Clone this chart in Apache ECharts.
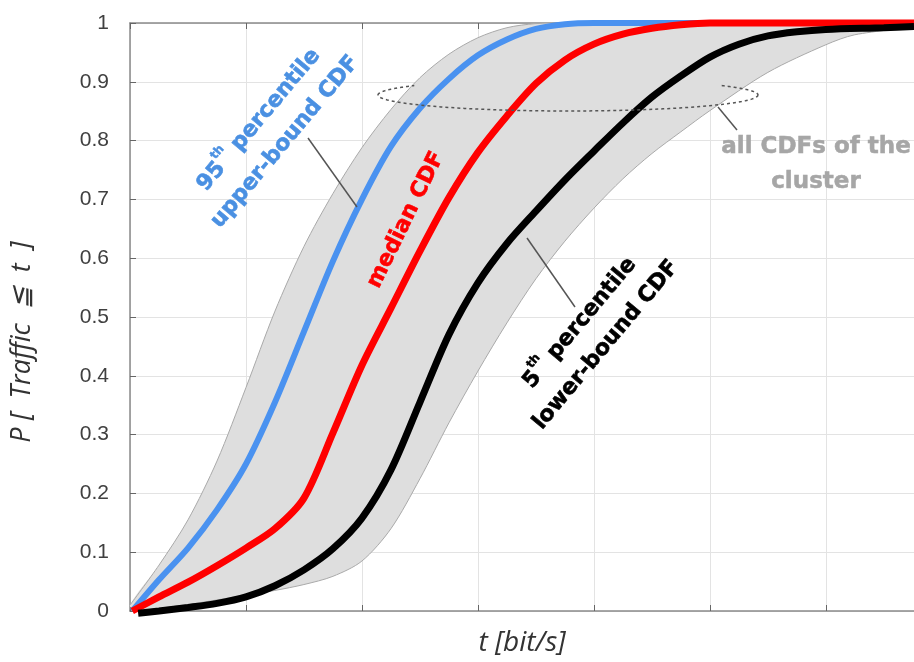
<!DOCTYPE html>
<html><head><meta charset="utf-8">
<script src="https://cdn.jsdelivr.net/npm/echarts@6/dist/echarts.min.js"></script>
<style>html,body{margin:0;padding:0;background:#fff}#c{width:914px;height:662px}</style>
</head><body><div id="c"></div>
<script>
// x in grid units (vertical gridline spacing = 1), y = probability
const upperEnvelope = [[0,0.01],[0.25,0.078],[0.5,0.155],[0.75,0.255],[1.0,0.38],[1.25,0.51],[1.5,0.62],[1.75,0.71],[2.0,0.788],[2.25,0.853],[2.5,0.907],[2.75,0.947],[3.0,0.975],[3.25,0.992],[3.5,0.999],[3.75,1.0],[6.76,1.0]];
const lowerEnvelope = [[0.07,0.0],[0.5,0.011],[1.0,0.027],[1.25,0.035],[1.5,0.045],[1.75,0.059],[2.0,0.085],[2.25,0.14],[2.5,0.225],[2.75,0.32],[3.0,0.408],[3.25,0.49],[3.5,0.565],[3.75,0.629],[4.0,0.685],[4.25,0.735],[4.5,0.778],[4.75,0.815],[5.0,0.851],[5.5,0.916],[6.0,0.963],[6.25,0.98],[6.76,0.993]];
const upper95 = [[0.02,0.0],[0.25,0.053],[0.5,0.107],[0.75,0.172],[1.0,0.25],[1.25,0.355],[1.5,0.475],[1.75,0.595],[2.0,0.70],[2.25,0.79],[2.5,0.855],[2.75,0.905],[3.0,0.945],[3.25,0.972],[3.5,0.99],[3.75,0.998],[4.0,1.0],[6.76,1.0]];
const medianCDF = [[0.02,0.0],[0.25,0.024],[0.5,0.049],[0.75,0.077],[1.0,0.107],[1.25,0.14],[1.5,0.192],[1.75,0.303],[2.0,0.418],[2.25,0.515],[2.5,0.612],[2.75,0.703],[3.0,0.78],[3.25,0.842],[3.5,0.897],[3.75,0.937],[4.0,0.964],[4.25,0.981],[4.5,0.991],[4.75,0.997],[5.0,1.0],[6.76,1.0]];
const lower5 = [[0.07,-0.004],[0.25,0.0],[0.5,0.006],[0.75,0.013],[1.0,0.024],[1.25,0.043],[1.5,0.07],[1.75,0.106],[2.0,0.158],[2.25,0.24],[2.5,0.355],[2.75,0.47],[3.0,0.558],[3.25,0.625],[3.5,0.68],[3.75,0.733],[4.0,0.782],[4.25,0.83],[4.5,0.874],[4.75,0.91],[5.0,0.942],[5.25,0.964],[5.5,0.978],[5.75,0.985],[6.0,0.989],[6.5,0.992],[6.76,0.994]];
const yTicks = {min:0, max:1, step:0.1};
const xRange = {min:0, max:6.76, step:1};

const chart = echarts.init(document.getElementById('c'));
const axisCol = '#8a8a8a', gridCol = '#e3e3e3';
const F = '"DejaVu Sans"';

function ellipsePts(cx, cy, rx, ry, a0, a1) {
  const pts = [];
  for (let i = 0; i <= 60; i++) {
    const a = a0 + (a1 - a0) * i / 60;
    pts.push([cx + rx * Math.cos(a), cy + ry * Math.sin(a)]);
  }
  return pts;
}
const ecx = 568, ecy = 95, erx = 190, ery = 16;
const dashStyle = {stroke:'#555', lineWidth:1.5, lineDash:[3,3], fill:null};
function richFor(col) {
  return {
    a:{font:'bold 22px '+F, fill:col, stroke:col, lineWidth:0.6, lineHeight:34},
    s:{font:'bold 12px '+F, fill:col, stroke:col, lineWidth:0.4, verticalAlign:'top', lineHeight:28}
  };
}

chart.setOption({
  animation: false,
  grid: {left:130, right:0, top:23, bottom:48},
  xAxis: [{
    type:'value', min:xRange.min, max:xRange.max, interval:xRange.step,
    axisLabel:{show:false},
    axisTick:{inside:true, length:6, lineStyle:{color:'#666'}},
    axisLine:{lineStyle:{color:axisCol, width:1.5}},
    splitLine:{lineStyle:{color:gridCol, width:1}},
    name:'t [bit/s]', nameLocation:'middle', nameGap:18,
    nameTextStyle:{fontFamily:'"Open Sans"', fontStyle:'italic', fontSize:28, color:'#333'}
  },{
    type:'value', position:'top', min:xRange.min, max:xRange.max, interval:xRange.step,
    axisLabel:{show:false},
    axisTick:{inside:true, length:6, lineStyle:{color:'#666'}},
    axisLine:{lineStyle:{color:axisCol, width:1.5}},
    splitLine:{show:false}
  }],
  yAxis: {
    type:'value', min:yTicks.min, max:yTicks.max, interval:yTicks.step,
    axisLabel:{fontFamily:'"Liberation Sans"', fontSize:21, color:'#404040', margin:21},
    axisTick:{inside:true, length:6, lineStyle:{color:'#666'}},
    axisLine:{show:true, lineStyle:{color:axisCol, width:1.5}},
    splitLine:{lineStyle:{color:gridCol, width:1}},
    name:'P [  Traffic  ≦  t  ]', nameLocation:'middle', nameGap:94,
    nameTextStyle:{fontFamily:'"Open Sans"', fontStyle:'italic', fontSize:27, color:'#333', padding:[0,50,0,0]}
  },
  series: [
    {
      type:'custom', silent:true, clip:false, z:1, data:[0],
      renderItem: function(params, api) {
        const up = upperEnvelope.map(p => api.coord(p));
        const lo = lowerEnvelope.map(p => api.coord(p));
        return {type:'group', children:[
          {type:'polygon', shape:{points: up.concat(lo.slice().reverse()), smooth:0.3}, style:{fill:'#dedede'}},
          {type:'polyline', shape:{points: up, smooth:0.3}, style:{stroke:'#a9a9a9', lineWidth:1, fill:null}},
          {type:'polyline', shape:{points: lo, smooth:0.3}, style:{stroke:'#a9a9a9', lineWidth:1, fill:null}}
        ]};
      }
    },
    {type:'line', data:upper95, smooth:0.3, showSymbol:false, clip:false, z:3, lineStyle:{color:'#4a92f0', width:6}},
    {type:'line', data:medianCDF, smooth:0.3, showSymbol:false, clip:false, z:4, lineStyle:{color:'#ff0000', width:7}},
    {type:'line', data:lower5, smooth:0.3, showSymbol:false, clip:false, z:5, lineStyle:{color:'#000000', width:7}}
  ],
  graphic: [
    {type:'polyline', z:100, silent:true, shape:{points: ellipsePts(ecx,ecy,erx,ery,0,Math.PI)}, style:dashStyle},
    {type:'polyline', z:100, silent:true, shape:{points: ellipsePts(ecx,ecy,erx,ery,Math.PI,Math.PI*1.2)}, style:dashStyle},
    {type:'polyline', z:100, silent:true, shape:{points: ellipsePts(ecx,ecy,erx,ery,Math.PI*1.8,Math.PI*2)}, style:dashStyle},
    {type:'line', z:100, silent:true, shape:{x1:308,y1:138,x2:357,y2:207}, style:{stroke:'#555', lineWidth:1.5}},
    {type:'line', z:100, silent:true, shape:{x1:527,y1:238,x2:575,y2:307}, style:{stroke:'#555', lineWidth:1.5}},
    {type:'line', z:100, silent:true, shape:{x1:718,y1:107,x2:737,y2:130}, style:{stroke:'#555', lineWidth:1.5}},
    {type:'text', z:100, silent:true, x:272, y:131, rotation:50*Math.PI/180,
      style:{text:'{a|95}{s|th}{a| percentile}\n{a|upper-bound CDF}', align:'center', verticalAlign:'middle', rich:richFor('#4a90e2')}},
    {type:'text', z:100, silent:true, x:406, y:220, rotation:64*Math.PI/180,
      style:{text:'median CDF', align:'center', verticalAlign:'middle', font:'bold 22px '+F, fill:'#ff0000', stroke:'#ff0000', lineWidth:0.6}},
    {type:'text', z:100, silent:true, x:593, y:334, rotation:50*Math.PI/180,
      style:{text:'{a|5}{s|th}{a| percentile}\n{a|lower-bound CDF}', align:'center', verticalAlign:'middle', rich:richFor('#000000')}},
    {type:'text', z:100, silent:true, x:816, y:165,
      style:{text:'all CDFs of the\ncluster', align:'center', verticalAlign:'middle', font:'bold 23px '+F, fill:'#a6a6a6', stroke:'#a6a6a6', lineWidth:0.5, lineHeight:35}}
  ]
});
</script></body></html>
